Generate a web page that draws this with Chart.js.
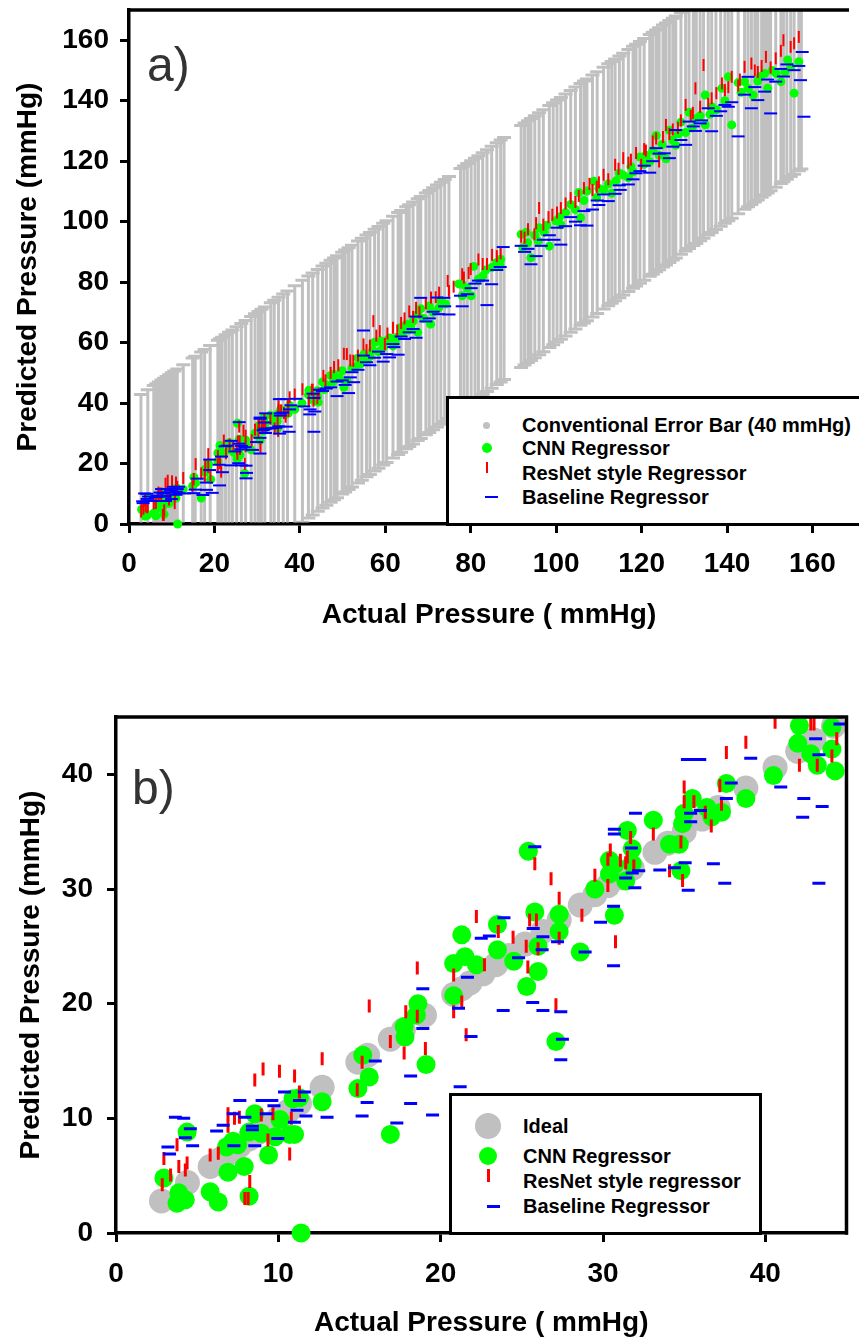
<!DOCTYPE html>
<html>
<head>
<meta charset="utf-8">
<script src="https://cdn.jsdelivr.net/npm/chart.js@4.4.1/dist/chart.umd.min.js"></script>
<style>
  body { margin: 0; width: 859px; height: 1343px; position: relative; overflow: hidden; background: #fff;
         font-family: "Liberation Sans", Arial, Helvetica, sans-serif; }
  canvas { position: absolute; left: 0; display: block; }
  .box { position: absolute; box-sizing: border-box; border: 3px solid #000; background: #fff; }
  .txt { position: absolute; height: 24px; line-height: 24px; font-size: 20px; font-weight: bold; color: #000; white-space: nowrap; }
  .mk { position: absolute; }
  .panel { position: absolute; font-size: 48px; line-height: 48px; color: #333; }
</style>
</head>
<body>
<canvas id="chartA" width="859" height="650" style="top:0"></canvas>
<canvas id="chartB" width="859" height="663" style="top:680px"></canvas>

<div class="panel" style="left:147px; top:41px">a)</div>
<div class="panel" style="left:132px; top:764px">b)</div>

<!-- legend a -->
<div class="box" style="left:446px; top:396px; width:440px; height:130px"></div>
<div class="mk" style="left:483px; top:421.5px; width:7px; height:7px; border-radius:50%; background:#c0c0c0"></div>
<div class="mk" style="left:481.5px; top:443px; width:10px; height:10px; border-radius:50%; background:#00ff00"></div>
<div class="mk" style="left:485.5px; top:462px; width:2px; height:11px; background:#ff0000"></div>
<div class="mk" style="left:485px; top:496px; width:13px; height:2px; background:#0000ff"></div>
<div class="txt" style="left:522px; top:413px">Conventional Error Bar (40 mmHg)</div>
<div class="txt" style="left:522px; top:436px">CNN Regressor</div>
<div class="txt" style="left:522px; top:460.5px">ResNet style Regressor</div>
<div class="txt" style="left:522px; top:485px">Baseline Regressor</div>

<!-- legend b -->
<div class="box" style="left:449px; top:1093px; width:313px; height:142px"></div>
<div class="mk" style="left:475px; top:1113px; width:26px; height:26px; border-radius:50%; background:#c0c0c0"></div>
<div class="mk" style="left:479px; top:1147px; width:18px; height:18px; border-radius:50%; background:#00ff00"></div>
<div class="mk" style="left:487px; top:1169px; width:3px; height:13px; background:#ff0000"></div>
<div class="mk" style="left:487px; top:1204.5px; width:13px; height:3px; background:#0000ff"></div>
<div class="txt" style="left:523px; top:1114px">Ideal</div>
<div class="txt" style="left:523px; top:1144px">CNN Regressor</div>
<div class="txt" style="left:523px; top:1169px">ResNet style regressor</div>
<div class="txt" style="left:523px; top:1194px">Baseline Regressor</div>

<script>
const FONT = '"Liberation Sans", Arial, Helvetica, sans-serif';
const errorHalf = 40; // conventional error bar, mmHg

// actual pressures (ideal markers in b, error bar positions in a)
const actualLow = [2.8, 4.4, 5.8, 6.4, 7.0, 7.6, 8.2, 8.8, 9.4, 10.0, 10.6, 11.3, 12.7, 14.9, 15.5, 16.9,
  17.7, 19.0, 20.8, 21.3, 21.8, 22.6, 23.4, 24.2, 25.2, 26.3, 27.3, 28.6, 29.5, 30.3, 31.0, 31.8, 33.2,
  34.0, 35.0, 36.1, 37.1, 38.8, 40.6, 42.0, 43.0, 44.2];
const actualHigh = [45.3, 46.2, 47.2, 48.0, 48.7, 49.9, 50.6, 51.4, 52.2, 53.6, 54.5, 55.6, 56.4, 57.5,
  58.4, 59.5, 60.3, 61.8, 63.0, 63.7, 64.9, 65.6, 66.5, 67.6, 68.3, 69.5, 70.3, 71.2, 72.1, 73.0, 73.9,
  74.9, 77.6, 78.4, 79.2, 80.1, 81.0, 81.8, 82.8, 83.8, 84.9, 86.1, 87.0, 87.8, 91.8, 92.6, 93.4, 94.1,
  95.0, 96.0, 97.0, 98.4, 99.3, 100.2, 101.1, 102.2, 103.4, 104.5, 105.7, 106.5, 107.2, 108.5, 109.6,
  111.1, 112.2, 113.0, 113.8, 114.8, 115.7, 116.9, 118.0, 118.7, 119.6, 120.6, 121.9, 122.6, 123.4,
  124.1, 125.0, 125.7, 126.5, 127.3, 128.0, 129.2, 130.3, 131.1, 132.1, 132.8, 133.7, 134.5, 135.6,
  136.4, 137.4, 138.5, 139.5, 140.3, 141.1, 142.6, 144.1, 144.9, 145.7, 146.5, 147.2, 148.1, 148.8,
  149.5, 150.2, 151.4, 152.6, 153.2, 154.0, 154.9, 155.7, 156.8, 157.4];

// [actual, predicted]
const cnnLow = [[2.95,4.8],[3.87,3.5],[3.76,2.6],[4.27,2.9],[4.38,8.8],[5.8,3.6],[6.3,2.7],[6.9,5.3],
  [6.8,7.5],[7.2,8.0],[7.5,7.7],[7.9,5.8],[8.2,3.2],[8.2,8.8],[8.55,10.4],[8.95,8.7],[9.4,6.8],[9.8,8.4],
  [10.1,9.9],[10.7,8.6],[11.0,8.6],[10.9,11.7],[11.3,11.8],[11.4,0],[12.7,11.45],[14.9,12.6],[15.2,15.5],
  [15.6,13.6],[16.9,8.6],[17.8,17.1],[17.75,18.0],[18.5,19.0],[18.6,20.0],[19.1,14.7],[20.8,20.7],
  [20.8,23.5],[21.3,26.0],[21.5,24.1],[22.2,23.4],[23.5,26.9],[23.5,24.7],[24.5,23.7],[25.3,21.5],
  [25.4,33.3],[25.8,28.0],[26.0,22.8],[26.0,25.0],[27.3,27.8],[27.3,26.3],[27.1,16.7],[28.6,24.5],
  [29.5,30.0],[30.7,27.7],[30.4,32.5],[30.4,31.3],[31.5,35.1],[31.8,33.5],[31.4,30.7],[30.7,32.1],
  [31.8,32.2],[33.1,36.0],[34.1,33.9],[34.8,31.6],[34.7,33.9],[34.9,35.7],[35.0,36.6],[35.5,37.9],
  [36.4,37.1],[36.7,36.3],[37.3,36.7],[37.6,39.2],[38.8,37.9],[40.5,39.9],[42.1,44.25],[42.0,42.7],
  [42.8,41.8],[43.2,40.8],[44.1,44.1],[44.1,42.2],[44.3,40.3]];
const cnnHigh = [[45.3,47.0],[45.8,44.5],[46.2,46.0],[47.2,49.1],[47.8,47.0],[48.0,49.5],[49.2,48.2],
  [49.9,50.7],[50.3,45.2],[51.0,47.4],[52.2,51.5],[53.0,52.0],[53.6,54.9],[54.1,52.9],[55.0,56.2],
  [55.6,54.5],[56.4,55.4],[57.0,57.5],[57.5,60.1],[58.4,57.0],[58.9,60.5],[59.5,58.4],[60.3,60.6],
  [61.0,61.5],[61.8,58.9],[62.3,60.0],[62.8,61.8],[63.7,65.0],[64.2,63.5],[64.9,66.1],[65.6,64.2],
  [66.0,65.2],[66.5,67.0],[67.6,63.4],[67.6,69.4],[68.3,71.2],[69.0,68.0],[70.3,72.1],[70.6,66.1],
  [71.2,70.0],[72.5,71.5],[73.0,73.9],[74.1,72.8],[77.2,79.4],[78.0,75.5],[78.0,79.3],[79.2,78.0],
  [80.1,75.5],[80.7,85.2],[81.8,81.0],[82.8,82.0],[83.5,84.0],[84.9,84.8],[86.1,86.5],[86.8,85.5],
  [87.0,87.6],[91.8,95.8],[92.2,91.4],[93.0,96.5],[93.3,93.0],[94.1,88.1],[95.0,95.5],[95.8,93.5],
  [96.0,98.0],[97.2,96.5],[97.8,98.8],[98.4,91.9],[99.9,100.3],[100.8,101.5],[101.1,99.0],[102.2,103.0],
  [103.4,105.7],[104.5,104.0],[105.7,101.3],[105.3,109.6],[106.5,107.0],[107.2,110.1],[108.8,113.4],
  [109.5,108.0],[110.0,111.0],[111.1,110.5],[112.2,112.5],[113.0,109.4],[114.0,113.5],[114.8,116.0],
  [115.7,115.4],[116.9,114.5],[117.5,118.2],[118.0,116.5],[119.6,121.4],[120.6,119.0],[121.0,122.0],
  [121.9,119.8],[122.6,123.5],[123.4,128.5],[124.1,122.0],[124.8,125.5],[125.7,120.8],[126.5,130.2],
  [127.3,127.0],[128.0,125.3],[128.6,129.0],[129.2,132.9],[130.3,129.5],[131.1,136.2],[131.8,131.0],
  [132.6,134.0],[133.7,135.0],[134.9,132.0],[134.9,141.9],[136.0,135.5],[136.4,138.0],[137.5,137.0],
  [138.8,144.1],[139.5,140.0],[140.3,147.9],[141.1,132.0],[142.6,146.0],[143.3,142.8],[144.1,146.3],
  [145.0,144.0],[146.1,141.9],[147.2,146.5],[147.8,148.0],[148.8,149.0],[149.5,144.1],[150.6,150.0],
  [151.5,149.0],[152.6,146.3],[153.6,149.5],[154.2,153.5],[154.9,151.2],[155.7,142.5],[156.8,152.9]];

const resnetLow = [[2.85,4.2],[2.95,6.5],[3.36,5.05],[3.76,7.7],[3.87,5.8],[4.27,5.5],[4.38,6.1],
  [5.8,6.8],[6.3,6.95],[6.9,10.4],[7.3,10.0],[7.6,10.1],[6.9,9.3],[8.24,4.5],[7.94,3.0],[8.14,3.0],
  [8.55,13.35],[8.95,10.3],[9.06,14.3],[9.36,8.1],[9.67,10.4],[10.07,14.1],[10.8,10.0],[10.7,6.9],
  [11.0,13.7],[11.3,12.3],[12.7,15.2],[15.16,14.9],[14.86,12.5],[15.6,19.8],[16.9,16.7],[17.75,15.7],
  [17.85,19.3],[18.56,18.9],[19.06,16.1],[18.56,23.1],[20.8,22.5],[21.3,20.15],[20.8,19.3],[21.57,17.3],
  [22.2,27.6],[22.7,23.4],[23.55,26.3],[24.46,25.8],[25.27,25.0],[25.37,23.2],[25.48,27.3],[25.9,27.3],
  [25.8,32.2],[26.0,24.8],[26.8,30.9],[27.3,29.2],[27.3,25.7],[27.1,19.9],[28.7,27.7],[29.5,31.2],
  [30.3,30.3],[30.3,32.6],[30.45,33.4],[31.07,32.5],[31.4,32.3],[31.5,32.8],[31.9,32.0],[31.7,34.5],
  [30.77,25.4],[33.1,34.8],[34.1,31.6],[34.9,30.75],[34.8,34.1],[35.0,38.9],[35.0,37.6],[35.6,37.6],
  [36.3,36.7],[36.67,35.5],[37.2,39.0],[37.3,37.4],[37.6,41.9],[38.8,42.8],[40.6,44.55],[42.1,40.8],
  [42.8,44.4],[43.0,44.4],[43.2,40.8],[44.4,43.1],[44.1,41.6]];
const resnetHigh = [[45.5,49.0],[46.0,47.5],[47.2,50.0],[48.0,51.9],[49.0,52.5],[50.3,56.3],[51.0,56.2],
  [51.8,54.1],[52.5,54.0],[53.6,55.7],[54.9,59.4],[55.6,57.5],[56.4,59.0],[57.2,67.1],[57.9,62.3],
  [58.7,63.8],[59.9,59.5],[60.5,63.0],[61.8,64.9],[62.8,64.0],[63.7,66.5],[64.5,68.0],[65.6,70.3],
  [66.5,68.5],[67.2,71.5],[68.0,70.0],[69.5,73.0],[70.7,74.9],[71.8,75.0],[72.6,76.5],[74.6,80.4],
  [74.9,77.1],[76.0,78.5],[78.0,82.6],[78.4,81.5],[79.5,83.0],[80.0,84.3],[81.8,87.5],[82.8,86.0],
  [83.8,86.0],[85.0,89.0],[86.1,88.6],[87.0,89.5],[91.8,95.0],[92.6,94.7],[93.4,97.5],[94.9,95.8],
  [95.3,99.5],[96.0,104.5],[97.0,99.0],[98.2,101.5],[99.1,102.3],[100.2,103.0],[101.1,104.5],
  [102.2,106.0],[103.4,107.8],[104.5,106.5],[105.3,108.5],[106.5,111.1],[107.8,112.5],[108.5,110.5],
  [109.5,111.5],[110.0,113.0],[111.1,115.5],[112.2,114.0],[113.8,118.8],[114.6,117.5],[115.7,121.0],
  [116.9,119.5],[117.5,120.5],[118.7,122.7],[119.9,118.8],[120.6,124.0],[121.0,123.5],[122.6,126.5],
  [123.4,127.5],[124.1,119.9],[125.0,128.0],[125.7,132.0],[126.5,129.0],[127.3,130.5],[128.5,131.0],
  [129.2,133.5],[130.3,138.6],[131.5,135.0],[132.0,136.0],[132.6,144.1],[133.7,138.0],[134.5,151.8],
  [135.6,139.0],[136.4,140.8],[137.5,142.5],[138.8,145.7],[139.5,143.5],[140.3,144.5],[141.1,147.9],
  [142.6,145.0],[143.0,147.0],[144.1,151.2],[145.7,152.3],[146.5,150.0],[147.2,149.5],[148.1,151.5],
  [149.1,154.5],[150.2,151.0],[151.4,154.0],[152.6,156.5],[153.2,160.0],[154.9,157.8],[155.7,159.0],
  [156.8,161.1]];

const baselineLow = [[3.66,10.1],[4.17,10.0],[4.58,9.1],[4.27,8.3],[4.72,7.6],[3.2,7.5],[3.3,6.9],
  [6.2,8.9],[6.6,9.4],[7.22,10.4],[7.63,11.56],[7.94,10.1],[7.26,7.6],[8.55,7.6],[8.4,9.3],[8.4,9.0],
  [9.0,11.56],[9.6,11.56],[9.26,10.4],[9.73,11.1],[10.38,12.3],[11.6,12.3],[11.3,11.56],[11.15,10.7],
  [10.99,9.65],[9.97,8.25],[11.7,10.2],[13.0,10.1],[15.16,10.2],[15.47,11.37],[15.97,15.0],[17.3,9.6],
  [18.15,13.7],[18.15,11.3],[19.5,10.3],[21.2,12.76],[18.9,21.3],[18.9,17.84],[21.1,19.6],[21.87,17.13],
  [21.65,22.3],[22.5,25.7],[23.0,25.9],[23.9,27.5],[24.8,24.0],[25.7,26.56],[26.3,25.83],[27.2,25.4],
  [26.25,24.7],[25.8,33.68],[23.85,19.4],[25.67,20.1],[26.3,19.4],[27.4,19.3],[27.5,16.9],[27.4,15.1],
  [30.65,28.5],[29.85,27.1],[30.65,23.3],[28.9,24.5],[32.0,36.6],[30.7,35.2],[30.7,34.8],[31.75,33.57],
  [32.2,31.6],[31.96,30.1],[31.4,30.97],[31.8,31.4],[33.5,31.65],[34.4,31.85],[35.06,32.3],[35.25,29.9],
  [36.8,32.2],[37.5,30.5],[35.2,41.3],[35.96,41.3],[35.4,36.6],[35.4,35.86],[36.0,36.85],[37.6,37.9],
  [37.9,39.25],[39.1,41.4],[40.95,38.9],[42.37,37.9],[43.5,37.2],[42.3,36.25],[43.3,30.5],[43.1,43.1],
  [43.3,41.7],[44.6,44.4]];
const baselineHigh = [[45.3,44.0],[46.2,44.8],[47.2,45.2],[48.7,42.3],[48.7,47.1],[49.9,47.5],[50.6,46.0],
  [51.4,43.3],[51.8,48.5],[52.2,50.2],[52.6,46.9],[53.6,51.0],[54.9,55.7],[54.9,64.0],[55.6,53.5],
  [56.4,52.5],[57.5,55.0],[58.4,57.0],[59.5,53.7],[60.3,56.2],[61.0,55.1],[61.8,59.5],[62.0,58.5],
  [63.0,56.0],[63.7,62.0],[64.5,61.2],[65.6,63.4],[66.5,64.5],[67.2,61.6],[67.2,68.6],[68.3,74.8],
  [69.5,67.0],[70.3,68.0],[71.2,70.2],[72.1,74.9],[72.5,69.4],[73.7,74.8],[73.9,72.0],[74.9,69.3],
  [77.6,75.5],[78.0,72.0],[79.2,76.0],[80.1,78.0],[81.0,79.5],[81.8,80.5],[82.8,80.5],[83.8,72.4],
  [84.9,79.3],[86.1,84.0],[86.9,85.0],[87.6,91.6],[91.8,92.0],[92.6,90.0],[93.4,91.0],[94.1,85.9],
  [95.3,88.6],[96.5,92.0],[97.0,94.0],[98.4,95.5],[99.5,94.0],[100.2,98.0],[101.1,92.4],[102.2,98.5],
  [103.4,101.5],[104.5,100.0],[105.7,98.8],[106.5,103.5],[107.2,98.7],[108.5,104.0],[109.6,107.0],
  [110.0,105.5],[111.1,109.0],[112.2,106.8],[113.8,109.2],[114.8,112.0],[115.0,110.5],[116.9,112.3],
  [118.0,114.0],[118.7,116.0],[119.6,116.7],[120.6,118.5],[121.9,116.2],[122.6,120.0],[123.4,124.3],
  [124.1,122.5],[125.3,122.6],[126.5,121.0],[127.3,124.8],[128.0,130.3],[129.2,127.0],[130.3,125.4],
  [131.1,133.1],[132.1,131.5],[132.6,130.0],[133.7,132.5],[134.0,133.5],[135.6,137.5],[136.4,129.9],
  [137.5,135.0],[138.5,136.5],[139.5,138.6],[140.3,138.0],[141.1,139.5],[142.6,128.2],[144.1,142.0],
  [144.9,147.9],[145.7,137.5],[146.5,144.5],[147.2,140.2],[148.8,143.0],[149.5,147.0],[150.2,135.8],
  [151.4,146.3],[152.6,150.5],[153.2,148.0],[154.0,152.0],[155.7,150.1],[156.8,151.5],[157.2,146.8],
  [157.6,156.1],[158.0,134.7]];

const xTicksA = 20, xMaxA = 168.55, yMaxA = 170;
const xTicksB = 10, xMaxB = 45, yMaxB = 45;
const AXIS_W = 3.5;

const toXY = pts => pts.map(([x, y]) => ({x, y}));

function errorBars(xs) {
  const out = [];
  xs.forEach(x => out.push({x, y: x - errorHalf}, {x, y: x + errorHalf}, {x, y: null}));
  return out;
}

// top / right border of the plot frame
const framePlugin = {
  id: 'frame',
  afterDatasetsDraw(chart, args, opts) {
    const {ctx, chartArea: a} = chart;
    ctx.save();
    ctx.strokeStyle = '#000';
    ctx.lineWidth = AXIS_W;
    ctx.beginPath();
    ctx.moveTo(a.left - AXIS_W / 2, a.top);
    ctx.lineTo(a.right, a.top);
    if (opts.right) ctx.lineTo(a.right, a.bottom + AXIS_W / 2);
    ctx.stroke();
    ctx.restore();
  }
};

function makeScales(o) {
  const font = {family: FONT, size: 28, weight: 'bold'};
  const grid = {drawOnChartArea: false, drawTicks: true, tickLength: o.tickLen, tickWidth: 3,
                tickColor: '#000', lineWidth: 3, color: '#000'};
  return {
    x: {
      type: 'linear', position: 'bottom', min: 0, max: o.xMax,
      ticks: {stepSize: o.xStep, includeBounds: false, autoSkip: false, maxRotation: 0,
              color: '#000', font, padding: o.xTickPad},
      grid, border: {color: '#000', width: AXIS_W},
      title: {display: true, text: 'Actual Pressure ( mmHg)', color: '#000', font,
              padding: {top: 0, bottom: o.xTitlePad}},
      afterFit: s => { s.height = o.xHeight; s.paddingLeft = 0; s.paddingRight = 0; }
    },
    y: {
      type: 'linear', position: 'left', min: 0, max: o.yMax,
      ticks: {stepSize: o.xStep, includeBounds: false, autoSkip: false, color: '#000', font, padding: o.yTickPad},
      grid, border: {color: '#000', width: AXIS_W},
      title: {display: true, text: 'Predicted Pressure (mmHg)', color: '#000', font,
              padding: {top: o.yTitlePad, bottom: 0}},
      afterFit: s => { s.width = o.yWidth; s.paddingTop = 0; s.paddingBottom = 0; }
    }
  };
}

const dash = (color, rot, r, w) => ({
  pointStyle: 'line', pointRotation: rot, pointRadius: r, pointBorderWidth: w,
  pointBorderColor: color, pointBackgroundColor: color, pointHoverRadius: r
});
const dot = (color, r) => ({
  pointStyle: 'circle', pointRadius: r, pointBorderWidth: 0,
  pointBackgroundColor: color, pointBorderColor: color, pointHoverRadius: r
});

// a) full range with conventional error bars
new Chart(document.getElementById('chartA'), {
  type: 'scatter',
  data: {
    datasets: [
      Object.assign({type: 'line', label: 'Conventional Error Bar (40 mmHg)',
        data: errorBars(actualLow.concat(actualHigh)), borderColor: '#c0c0c0', borderWidth: 3,
        spanGaps: false, order: 4, clip: {left: 0, top: 0, right: 0, bottom: -1.5}},
        dash('#c0c0c0', 0, 7, 3)),
      Object.assign({label: 'CNN Regressor', data: toXY(cnnLow.concat(cnnHigh)), order: 3, clip: false},
        dot('#00ff00', 4.5)),
      Object.assign({label: 'ResNet style Regressor', data: toXY(resnetLow.concat(resnetHigh)), order: 2, clip: false},
        dash('#ff0000', 90, 6, 2)),
      Object.assign({label: 'Baseline Regressor', data: toXY(baselineLow.concat(baselineHigh)), order: 1, clip: false},
        dash('#0000ff', 0, 6.5, 2))
    ]
  },
  options: {
    responsive: false, animation: false, devicePixelRatio: 1,
    layout: {padding: {top: 8, right: 0, bottom: 0, left: 0}},
    plugins: {legend: {display: false}, tooltip: {enabled: false}, frame: {right: false}},
    scales: makeScales({xMax: xMaxA, yMax: yMaxA, xStep: xTicksA, tickLen: 9, xTickPad: 14,
      xTitlePad: 18, xHeight: 126, yTickPad: 11, yTitlePad: 11, yWidth: 129})
  },
  plugins: [framePlugin]
});

// b) zoom on 0-45 mmHg
const clipB = {left: false, top: 0, right: 0, bottom: false};
new Chart(document.getElementById('chartB'), {
  type: 'scatter',
  data: {
    datasets: [
      Object.assign({label: 'Ideal', data: actualLow.map(x => ({x, y: x})), order: 4, clip: clipB},
        dot('#c0c0c0', 12.5)),
      Object.assign({label: 'CNN Regressor', data: toXY(cnnLow), order: 3, clip: clipB},
        dot('#00ff00', 9.5)),
      Object.assign({label: 'ResNet style regressor', data: toXY(resnetLow), order: 2, clip: clipB},
        dash('#ff0000', 90, 6.5, 3)),
      Object.assign({label: 'Baseline Regressor', data: toXY(baselineLow), order: 1, clip: clipB},
        dash('#0000ff', 0, 6.5, 3))
    ]
  },
  options: {
    responsive: false, animation: false, devicePixelRatio: 1,
    layout: {padding: {top: 37, right: 6, bottom: 0, left: 0}},
    plugins: {legend: {display: false}, tooltip: {enabled: false}, frame: {right: true}},
    scales: makeScales({xMax: xMaxB, yMax: yMaxB, xStep: xTicksB, tickLen: 9, xTickPad: 15,
      xTitlePad: 3, xHeight: 110, yTickPad: 14, yTitlePad: 14, yWidth: 116})
  },
  plugins: [framePlugin]
});
</script>
</body>
</html>
